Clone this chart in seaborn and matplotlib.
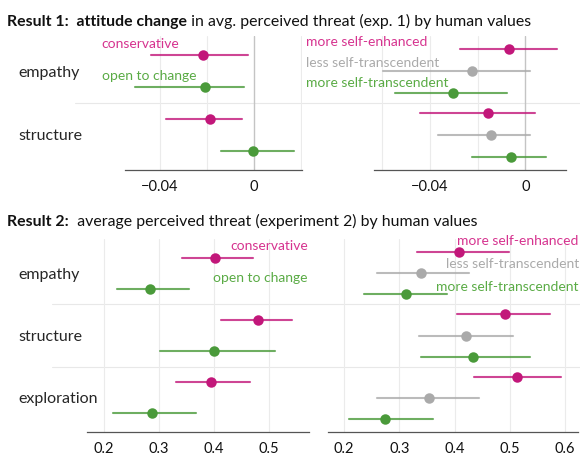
import numpy as np
import pandas as pd
import matplotlib
matplotlib.use("Agg")
import matplotlib.pyplot as plt
import matplotlib.transforms as mtransforms
from matplotlib.lines import Line2D
import seaborn as sns

# ---- data (point estimate, lower, upper) ----
cats1 = ["empathy", "structure"]
cats2 = ["empathy", "structure", "exploration"]
grp_a = ["conservative", "open to change"]
grp_b = ["more self-enhanced", "less self-transcendent", "more self-transcendent"]

# Result 1, left panel
r1_cons_est = [-0.0218, -0.0188]
r1_cons_lo = [-0.0440, -0.0377]
r1_cons_hi = [-0.0025, -0.0050]
r1_open_est = [-0.0210, -0.0003]
r1_open_lo = [-0.0508, -0.0142]
r1_open_hi = [-0.0042, 0.0171]

# Result 1, right panel
r1_se_est = [-0.0070, -0.0155]
r1_se_lo = [-0.0274, -0.0442]
r1_se_hi = [0.0134, 0.0042]
r1_lst_est = [-0.0222, -0.0144]
r1_lst_lo = [-0.0596, -0.0368]
r1_lst_hi = [0.0020, 0.0020]
r1_mst_est = [-0.0302, -0.0060]
r1_mst_lo = [-0.0548, -0.0225]
r1_mst_hi = [-0.0076, 0.0086]

# Result 2, left panel
r2_cons_est = [0.403, 0.480, 0.396]
r2_cons_lo = [0.342, 0.414, 0.331]
r2_cons_hi = [0.472, 0.542, 0.465]
r2_open_est = [0.285, 0.401, 0.288]
r2_open_lo = [0.224, 0.303, 0.217]
r2_open_hi = [0.356, 0.512, 0.367]

# Result 2, right panel
r2_se_est = [0.409, 0.492, 0.513]
r2_se_lo = [0.332, 0.404, 0.435]
r2_se_hi = [0.499, 0.572, 0.593]
r2_lst_est = [0.339, 0.420, 0.353]
r2_lst_lo = [0.260, 0.336, 0.260]
r2_lst_hi = [0.426, 0.505, 0.444]
r2_mst_est = [0.312, 0.433, 0.275]
r2_mst_lo = [0.237, 0.339, 0.209]
r2_mst_hi = [0.386, 0.537, 0.361]

pt_colors = {"conservative": "#c2177a", "open to change": "#4a9a3a",
             "more self-enhanced": "#c2177a", "less self-transcendent": "#aaaaaa",
             "more self-transcendent": "#4a9a3a"}
txt_colors = {"conservative": "#d6338f", "open to change": "#5aab45",
              "more self-enhanced": "#d6338f", "less self-transcendent": "#aaaaaa",
              "more self-transcendent": "#5aab45"}


def long_frame(cats, groups, series):
    rows = []
    for g, (est, lo, hi) in zip(groups, series):
        for c, e, l, h in zip(cats, est, lo, hi):
            for v in (l, e, h):
                rows.append({"cat": c, "group": g, "value": v})
    return pd.DataFrame(rows)


df1a = long_frame(cats1, grp_a, [(r1_cons_est, r1_cons_lo, r1_cons_hi),
                                 (r1_open_est, r1_open_lo, r1_open_hi)])
df1b = long_frame(cats1, grp_b, [(r1_se_est, r1_se_lo, r1_se_hi),
                                 (r1_lst_est, r1_lst_lo, r1_lst_hi),
                                 (r1_mst_est, r1_mst_lo, r1_mst_hi)])
df2a = long_frame(cats2, grp_a, [(r2_cons_est, r2_cons_lo, r2_cons_hi),
                                 (r2_open_est, r2_open_lo, r2_open_hi)])
df2b = long_frame(cats2, grp_b, [(r2_se_est, r2_se_lo, r2_se_hi),
                                 (r2_lst_est, r2_lst_lo, r2_lst_hi),
                                 (r2_mst_est, r2_mst_lo, r2_mst_hi)])

sns.set_theme(style="white")
plt.rcParams["font.family"] = ["Lato", "DejaVu Sans"]
plt.rcParams["text.color"] = "#111111"

W, H = 580, 461
fig = plt.figure(figsize=(W / 100, H / 100), dpi=100)


def axes_px(x0, x1, y0, y1):
    ax = fig.add_axes([x0 / W, 1 - y1 / H, (x1 - x0) / W, (y1 - y0) / H])
    ax.set_facecolor("none")
    return ax


ax1a = axes_px(125, 302, 36, 170)
ax1b = axes_px(374, 566, 36, 170)
ax2a = axes_px(87, 309, 239, 432)
ax2b = axes_px(328, 578, 239, 432)


def draw(ax, df, cats, groups, dodge):
    sns.pointplot(data=df, x="value", y="cat", hue="group", order=cats,
                  hue_order=groups, palette=pt_colors, estimator="median",
                  errorbar=("pi", 100), dodge=dodge, linestyle="none",
                  markers="o", markersize=5.5, orient="h",
                  err_kws={"linewidth": 1.5, "alpha": 0.8}, ax=ax)
    ax.get_legend().remove()
    ax.set_xlabel("")
    ax.set_ylabel("")
    for s in ["top", "right", "left"]:
        ax.spines[s].set_visible(False)
    ax.spines["bottom"].set_color("#555555")
    ax.spines["bottom"].set_linewidth(0.9)
    ax.tick_params(axis="y", length=0)
    ax.tick_params(axis="x", length=4, width=0.8, color="#555555",
                   labelsize=10.5, pad=3, labelcolor="#111111")
    ax.set_ylim(len(cats) - 0.5 + 0.05, -0.5 - 0.05)
    ax.set_axisbelow(True)


draw(ax1a, df1a, cats1, grp_a, 0.5)
draw(ax1b, df1b, cats1, grp_b, 0.68)
draw(ax2a, df2a, cats2, grp_a, 0.5)
draw(ax2b, df2b, cats2, grp_b, 0.68)

ax1a.set_xlim(-0.055, 0.0206)
ax1b.set_xlim(-0.0635, 0.0171)
ax2a.set_xlim(0.170, 0.573)
ax2b.set_xlim(0.171, 0.6235)

# x ticks and grid lines
for ax, grid in [(ax1a, [-0.04, -0.02, 0.02]), (ax1b, [-0.06, -0.04, -0.02])]:
    ax.set_xticks([-0.04, 0])
    ax.set_xticklabels(["\u22120.04", "0"])
    for g in grid:
        ax.axvline(g, color="#ebebeb", lw=0.8, zorder=0)
    ax.axvline(0, color="#c4c4c4", lw=1.0, zorder=0)

ax2a.set_xticks([0.2, 0.3, 0.4, 0.5])
ax2b.set_xticks([0.2, 0.3, 0.4, 0.5, 0.6])
for ax in (ax2a, ax2b):
    ax.set_xticklabels([f"{t:.1f}" for t in ax.get_xticks()])
    for g in ax.get_xticks():
        ax.axvline(g, color="#ebebeb", lw=0.8, zorder=0)

# category labels on left panels only
ax1a.set_yticks(range(len(cats1)))
ax1a.set_yticklabels(cats1, ha="left", fontsize=11.5)
ax1a.tick_params(axis="y", pad=(125 - 18) * 0.72)
ax2a.set_yticks(range(len(cats2)))
ax2a.set_yticklabels(cats2, ha="left", fontsize=11.5)
ax2a.tick_params(axis="y", pad=(87 - 18) * 0.72)
for ax in (ax1b, ax2b):
    ax.set_yticks(range(len(cats1) if ax is ax1b else len(cats2)))
    ax.set_yticklabels([])

# separators between categories across the full width
for ax, cats, x0 in [(ax1a, cats1, 75), (ax2a, cats2, 52)]:
    tr = mtransforms.blended_transform_factory(fig.transFigure, ax.transData)
    for k in range(len(cats) - 1):
        fig.add_artist(Line2D([x0 / W, 1.0], [k + 0.5, k + 0.5], transform=tr,
                              color="#e8e8e8", lw=0.8, zorder=-1))

# series labels
def label(ax, name, xa, yd, ha):
    tr = mtransforms.blended_transform_factory(ax.transAxes, ax.transData)
    ax.text(xa, yd, name, transform=tr, ha=ha, va="center", fontsize=10,
            color=txt_colors[name], clip_on=False)


label(ax1a, "conservative", -0.132, -0.42, "left")
label(ax1a, "open to change", -0.132, 0.08, "left")
label(ax1b, "more self-enhanced", -0.354, -0.45, "left")
label(ax1b, "less self-transcendent", -0.354, -0.13, "left")
label(ax1b, "more self-transcendent", -0.354, 0.18, "left")
label(ax2a, "conservative", 0.995, -0.43, "right")
label(ax2a, "open to change", 0.995, 0.08, "right")
label(ax2b, "more self-enhanced", 1.003, -0.52, "right")
label(ax2b, "less self-transcendent", 1.003, -0.15, "right")
label(ax2b, "more self-transcendent", 1.003, 0.22, "right")

# titles with mixed weights
def title(parts, x_px, y_px):
    t = fig.text(x_px / W, 1 - y_px / H, parts[0][0], fontweight=parts[0][1],
                 fontsize=11.4, ha="left", va="bottom")
    for txt, wt in parts[1:]:
        t = fig.add_artist(matplotlib.text.Annotation(
            txt, xy=(1, 0), xycoords=t, ha="left", va="bottom",
            fontweight=wt, fontsize=11.4))


title([("Result 1:  attitude change", "bold"),
       (" in avg. perceived threat (exp. 1) by human values", "normal")], 7, 29)
title([("Result 2:", "bold"),
       ("  average perceived threat (experiment 2) by human values", "normal")], 7, 229)

fig.savefig("out.png", dpi=100)
